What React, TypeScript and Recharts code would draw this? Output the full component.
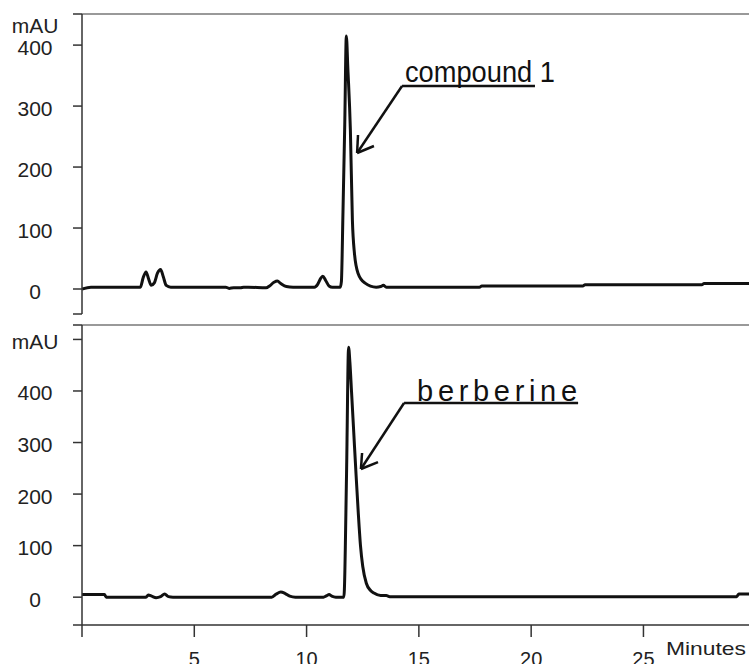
import React from 'react';
import { LineChart, Line, XAxis, YAxis, ReferenceLine, ReferenceDot } from 'recharts';

// ---- data (minutes, mAU) ----
const topTime = [0, 0.4, 2.6, 2.72, 2.85, 2.97, 3.08, 3.22, 3.36, 3.5, 3.62, 3.75, 3.95, 6.4, 6.55, 6.75, 7.05, 7.2, 7.4, 8.2, 8.35, 8.55, 8.7, 8.85, 9.1, 9.4, 10.35, 10.5, 10.62, 10.72, 10.85, 11.0, 11.15, 11.5, 11.55, 11.62, 11.7, 11.77, 11.84, 11.95, 12.04, 12.13, 12.29, 12.59, 13.1, 13.3, 13.42, 13.55, 17.7, 17.8, 22.3, 22.4, 27.6, 27.7, 29.7];
const topSignal = [0, 3, 3, 18, 28, 16, 6, 10, 26, 32, 20, 6, 3, 3, 1, 2, 2, 3, 3, 2, 5, 11, 13, 9, 4, 3, 3, 8, 17, 21, 14, 5, 3, 3, 12, 125, 270, 415, 360, 261, 113, 59, 26, 10, 3, 4, 6, 3, 3, 5, 5, 7, 7, 9, 9];

const bottomTime = [0, 1.0, 1.08, 2.85, 2.95, 3.1, 3.3, 3.5, 3.68, 3.85, 4.05, 8.45, 8.65, 8.85, 9.05, 9.25, 9.5, 10.75, 10.9, 11.0, 11.12, 11.3, 11.66, 11.78, 11.87, 11.93, 12.0, 12.1, 12.2, 12.3, 12.4, 12.5, 12.66, 12.85, 13.0, 13.3, 13.55, 13.7, 29.15, 29.25, 29.7];
const bottomSignal = [5, 5, 0, 0, 4, 2, -1, 1, 6, 1, 0, 0, 6, 10, 7, 2, 0, 0, 3, 5, 2, 0, 0, 240, 485, 455, 400, 320, 240, 165, 100, 60, 27, 13, 8, 3, 3, 1, 1, 6, 6];

const xTicks = [0, 5, 10, 15, 20, 25];
const xTickLabels = ['', '5', '10', '15', '20', '25'];
const xDomain = [0, 29.7];

const topYTicks = [-41, 0, 100, 200, 300, 400, 451];
const topYTickLabels = ['', '0', '100', '200', '300', '400', 'mAU'];
const bottomYTicks = [-54, 0, 100, 200, 300, 400, 500, 528];
const bottomYTickLabels = ['', '0', '100', '200', '300', '400', 'mAU', ''];

const topLabel = 'compound 1';
const topLabelPos = { t: 14.38, v: 339.5 };
const topUnderline = [{ t: 14.25, v: 333 }, { t: 20.17, v: 333 }];
const topArrow = [{ t: 14.25, v: 333 }, { t: 12.25, v: 223 }];
const topArms = [{ t: 12.29, v: 252.5 }, { t: 13.0, v: 234.5 }];

const bottomLabel = 'berberine';
const bottomLabelPos = { t: 14.92, v: 380.6 };
const bottomUnderline = [{ t: 14.34, v: 376.7 }, { t: 22.09, v: 376.7 }];
const bottomArrow = [{ t: 14.34, v: 376.7 }, { t: 12.42, v: 248.7 }];
const bottomArms = [{ t: 12.47, v: 279.7 }, { t: 13.18, v: 262 }];

const topData = topTime.map((t, i) => ({ t, v: topSignal[i] }));
const bottomData = bottomTime.map((t, i) => ({ t, v: bottomSignal[i] }));

const FONT = '"Liberation Sans", Arial, sans-serif';
const INK = '#111';
const AXIS = '#333';

const makeYTick = (ticks: number[], labels: string[], topShift: number) => (props: any) => {
  const { x, y, payload } = props;
  const idx = ticks.indexOf(payload.value);
  const label = idx >= 0 ? labels[idx] : '';
  if (!label) return <g />;
  const isTop = idx === ticks.length - 1;
  return (
    <text
      x={x - 36}
      y={y + 2 + (isTop ? topShift : 0)}
      textAnchor="middle"
      dominantBaseline="central"
      fontFamily={FONT}
      fontSize={21}
      fill="#222"
    >
      {label}
    </text>
  );
};

const XTick = (props: any) => {
  const { x, y, payload } = props;
  const idx = xTicks.indexOf(payload.value);
  const label = idx >= 0 ? xTickLabels[idx] : '';
  if (!label) return <g />;
  return (
    <text x={x} y={y + 27} textAnchor="middle" fontFamily={FONT} fontSize={20} fill="#222">
      {label}
    </text>
  );
};

const labelShape = (text: string, size: number, len: number, adjust: string) => (p: any) => (
  <text
    x={p.cx}
    y={p.cy}
    fontFamily={FONT}
    fontSize={size}
    fill={INK}
    textLength={len}
    lengthAdjust={adjust}
  >
    {text}
  </text>
);

const seg = (a: { t: number; v: number }, b: { t: number; v: number }) => [
  { x: a.t, y: a.v },
  { x: b.t, y: b.v },
];

const annot = (underline: any[], arrow: any[], arms: any[], keyP: string) => [
  <ReferenceLine key={keyP + 'u'} segment={seg(underline[0], underline[1])} stroke={INK} strokeWidth={2.5} ifOverflow="visible" />,
  <ReferenceLine key={keyP + 'a'} segment={seg(arrow[0], arrow[1])} stroke={INK} strokeWidth={2.5} ifOverflow="visible" />,
  <ReferenceLine key={keyP + 'b'} segment={seg(arrow[1], arms[0])} stroke={INK} strokeWidth={2.5} ifOverflow="visible" />,
  <ReferenceLine key={keyP + 'c'} segment={seg(arrow[1], arms[1])} stroke={INK} strokeWidth={2.5} ifOverflow="visible" />,
];

export default function App() {
  return (
    <div style={{ position: 'absolute', left: 0, top: 0, width: 749, height: 664, background: '#fff', overflow: 'hidden' }}>
      <div style={{ position: 'absolute', left: 0, top: 0 }}>
        <LineChart width={749} height={325} data={topData} margin={{ top: 14, right: 0, bottom: 11, left: 0 }}>
          <XAxis type="number" dataKey="t" domain={xDomain} allowDataOverflow hide />
          <YAxis
            type="number"
            domain={[topYTicks[0], topYTicks[topYTicks.length - 1]]}
            ticks={topYTicks}
            allowDataOverflow
            width={82}
            tickSize={9}
            tickMargin={2}
            interval={0}
            axisLine={{ stroke: AXIS, strokeWidth: 1.5 }}
            tickLine={{ stroke: AXIS, strokeWidth: 1.5 }}
            tick={makeYTick(topYTicks, topYTickLabels, 9)}
          />
          <ReferenceLine y={topYTicks[topYTicks.length - 1]} stroke="#777" strokeWidth={1.5} ifOverflow="visible" />
          <Line type="monotone" dataKey="v" stroke={INK} strokeWidth={3} dot={false} isAnimationActive={false} />
          {annot(topUnderline, topArrow, topArms, 'top')}
          <ReferenceDot x={topLabelPos.t} y={topLabelPos.v} r={0} ifOverflow="visible" shape={labelShape(topLabel, 29, 150, 'spacingAndGlyphs')} />
        </LineChart>
      </div>
      <div style={{ position: 'absolute', left: 0, top: 315 }}>
        <LineChart width={749} height={349} data={bottomData} margin={{ top: 10, right: 0, bottom: 0, left: 0 }}>
          <XAxis
            type="number"
            dataKey="t"
            domain={xDomain}
            allowDataOverflow
            ticks={xTicks}
            interval={0}
            height={39}
            tickSize={12}
            tickMargin={2}
            axisLine={{ stroke: AXIS, strokeWidth: 1.5 }}
            tickLine={{ stroke: AXIS, strokeWidth: 1.5 }}
            tick={XTick}
            label={{
              content: (p: any) => {
                const vb = p.viewBox || {};
                return (
                  <text
                    x={vb.x + vb.width - 3}
                    y={vb.y + 30}
                    textAnchor="end"
                    fontFamily={FONT}
                    fontSize={19}
                    fill="#222"
                    textLength={80}
                    lengthAdjust="spacingAndGlyphs"
                  >
                    Minutes
                  </text>
                );
              },
            }}
          />
          <YAxis
            type="number"
            domain={[bottomYTicks[0], bottomYTicks[bottomYTicks.length - 1]]}
            ticks={bottomYTicks}
            allowDataOverflow
            width={82}
            tickSize={9}
            tickMargin={2}
            interval={0}
            axisLine={{ stroke: AXIS, strokeWidth: 1.5 }}
            tickLine={{ stroke: AXIS, strokeWidth: 1.5 }}
            tick={makeYTick(bottomYTicks, bottomYTickLabels, 0)}
          />
          <ReferenceLine y={bottomYTicks[bottomYTicks.length - 1]} stroke="#777" strokeWidth={1.5} ifOverflow="visible" />
          <Line type="monotone" dataKey="v" stroke={INK} strokeWidth={3} dot={false} isAnimationActive={false} />
          {annot(bottomUnderline, bottomArrow, bottomArms, 'bot')}
          <ReferenceDot x={bottomLabelPos.t} y={bottomLabelPos.v} r={0} ifOverflow="visible" shape={labelShape(bottomLabel, 29, 160, 'spacing')} />
        </LineChart>
      </div>
    </div>
  );
}
